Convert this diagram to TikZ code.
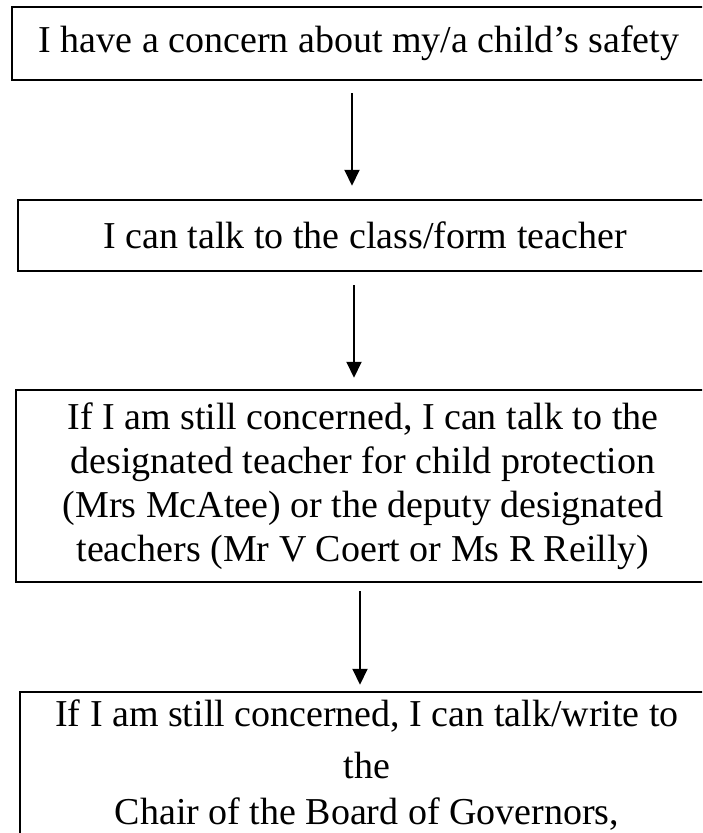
\documentclass[tikz,border=0pt]{standalone}
\usepackage{fontspec}
\setmainfont{Liberation Serif}
\usetikzlibrary{arrows.meta,calc}
\begin{document}
\begin{tikzpicture}[x=1pt,y=-1pt,
  box/.style={draw, line width=2.5pt, align=center, inner sep=0pt,
    font=\fontsize{38}{44}\selectfont},
  txt/.style={align=center, inner sep=0pt, font=\fontsize{38}{44}\selectfont},
  arr/.style={line width=2pt, -{Triangle[width=15pt,length=16pt]}}]
\useasboundingbox (0,0) rectangle (702,833);
\clip (0,0) rectangle (702,833);
\node[box, minimum width=694pt, minimum height=73pt] (b1) at (359,43.5)
  {I have a concern about my/a child’s safety};
\node[box, minimum width=694pt, minimum height=71pt] (b2) at (365,235.5)
  {I can talk to the class/form teacher};
\node[box, minimum width=694pt, minimum height=192pt] (b3) at (363,486)
  {If I am still concerned, I can talk to the\\
   designated teacher for child protection\\
   (Mrs McAtee) or the deputy designated\\
   teachers (Mr V Coert or Ms R Reilly)};
\node[box, minimum width=694pt, minimum height=208pt] (b4) at (367,796) {};
\node[txt, anchor=north] (t4) at (367,700)
  {If I am still concerned, I can talk/write to\\[8pt]
   the\\[2pt]
   Chair of the Board of Governors,};
\draw[arr] ($(b1.south)+(-7,12)$) -- ($(b2.north)+(-13,-13)$);
\draw[arr] ($(b2.south)+(-11,13)$) -- ($(b3.north)+(-9,-11)$);
\draw[arr] ($(b3.south)+(-3,8)$) -- ($(b4.north)+(-7,-6)$);
\end{tikzpicture}
\end{document}
